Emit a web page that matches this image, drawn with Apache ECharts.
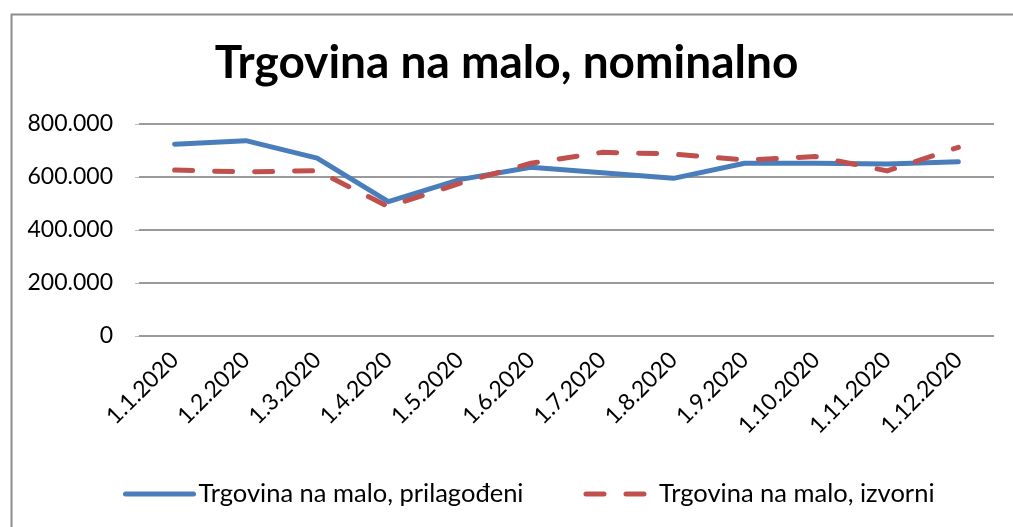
<!DOCTYPE html>
<html>
<head>
<meta charset="utf-8">
<style>
html,body{margin:0;padding:0;background:#fff;}
#c{width:1013px;height:527px;}
</style>
<script src="https://cdn.jsdelivr.net/npm/echarts@6/dist/echarts.min.js"></script>
</head>
<body>
<div id="c"></div>
<script>
const titleText = 'Trgovina na malo, nominalno';
const categories = ['1.1.2020','1.2.2020','1.3.2020','1.4.2020','1.5.2020','1.6.2020','1.7.2020','1.8.2020','1.9.2020','1.10.2020','1.11.2020','1.12.2020'];
const seriesNames = ['Trgovina na malo, prilagođeni','Trgovina na malo, izvorni'];
const adjusted = [724000, 737000, 671000, 507000, 590000, 637000, 616000, 595000, 652000, 652000, 649000, 658000];
const original = [626000, 619000, 624000, 488000, 576000, 652000, 693000, 687000, 664000, 677000, 623000, 712000];
const yTicks = {min: 0, max: 800000, interval: 200000};

const FONT = 'Lato, Carlito, "Liberation Sans", sans-serif';
const chart = echarts.init(document.getElementById('c'), null, {renderer: 'canvas'});
function fmt(v){ return String(v).replace(/\B(?=(\d{3})+(?!\d))/g, '.'); }
chart.setOption({
  animation: false,
  backgroundColor: '#fff',
  graphic: [{
    type: 'rect', left: 9, top: 12, silent: true,
    shape: {width: 1100, height: 600},
    style: {fill: 'none', stroke: '#8c8c8c', lineWidth: 2}
  }],
  title: {
    text: titleText, left: 'center', top: 35,
    textStyle: {fontFamily: FONT, fontWeight: 'bold', fontSize: 46, color: '#000'}
  },
  legend: {
    bottom: 15, left: 118,
    itemWidth: 68, itemHeight: 6, itemGap: 60,
    itemStyle: {opacity: 0},
    lineStyle: {width: 5, cap: 'round'},
    textStyle: {fontFamily: FONT, fontSize: 25.5, color: '#000'},
    data: seriesNames
  },
  grid: {left: 139, right: 19, top: 124, bottom: 191, containLabel: false},
  xAxis: {
    type: 'category', data: categories, boundaryGap: true,
    axisLine: {show: false}, axisTick: {show: false},
    axisLabel: {rotate: 45, fontFamily: FONT, fontSize: 23, color: '#000', margin: 20, interval: 0}
  },
  yAxis: {
    type: 'value', min: yTicks.min, max: yTicks.max, interval: yTicks.interval,
    axisLine: {show: false},
    axisTick: {show: true, length: 4, lineStyle: {color: '#bbb'}},
    splitLine: {lineStyle: {color: '#9a9a9a', width: 2}},
    axisLabel: {fontFamily: FONT, fontSize: 23, color: '#000', margin: 26, formatter: fmt}
  },
  series: [
    {
      name: seriesNames[0], type: 'line', data: adjusted, symbol: 'none',
      lineStyle: {color: '#4a7ebb', width: 5, cap: 'round', join: 'round'},
      itemStyle: {color: '#4a7ebb'}
    },
    {
      name: seriesNames[1], type: 'line', data: original, symbol: 'none',
      lineStyle: {color: '#c0504d', width: 5, type: [18, 22], cap: 'round', join: 'round'},
      itemStyle: {color: '#c0504d'}
    }
  ]
});
</script>
</body>
</html>
